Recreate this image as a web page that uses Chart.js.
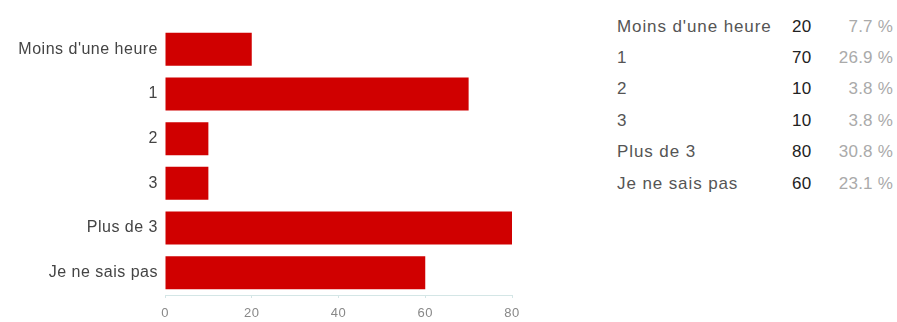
<!DOCTYPE html>
<html><head><meta charset="utf-8">
<script src="https://cdn.jsdelivr.net/npm/chart.js@4/dist/chart.umd.min.js"></script>
<style>
html,body{margin:0;padding:0;background:#fff;width:897px;height:322px;overflow:hidden;font-family:"Liberation Sans",Arial,sans-serif;}
#wrap{position:absolute;left:0;top:0;width:540px;height:322px;}
#tbl{position:absolute;left:617px;top:11px;border-collapse:collapse;font-size:17px;letter-spacing:0.9px;}
#tbl td{height:31.4px;padding:0;white-space:nowrap;}
#tbl td.l{color:#555;width:175px;}
#tbl td.v{color:#222;width:40px;text-align:left;letter-spacing:0.4px;}
#tbl td.p{color:#aaa;width:61px;text-align:right;letter-spacing:0.2px;}
</style></head><body>
<div id="wrap"><canvas id="c"></canvas></div>
<table id="tbl"></table>
<script>
const categories = ["Moins d'une heure","1","2","3","Plus de 3","Je ne sais pas"];
const counts = [20,70,10,10,80,60];
const percents = ["7.7 %","26.9 %","3.8 %","3.8 %","30.8 %","23.1 %"];
const xTicks = [0,20,40,60,80];

const tbl = document.getElementById('tbl');
categories.forEach((c,i)=>{
  const tr=document.createElement('tr');
  tr.innerHTML='<td class="l"></td><td class="v"></td><td class="p"></td>';
  tr.children[0].textContent=c;
  tr.children[1].textContent=counts[i];
  tr.children[2].textContent=percents[i];
  tbl.appendChild(tr);
});

const spacing = {id:'spacing',beforeDraw(chart){chart.ctx.letterSpacing='0.5px';}};

new Chart(document.getElementById('c'),{
  type:'bar',
  data:{labels:categories,datasets:[{data:counts,backgroundColor:'#d00000',borderWidth:0,barPercentage:0.74,categoryPercentage:1}]},
  plugins:[spacing],
  options:{
    indexAxis:'y',responsive:true,maintainAspectRatio:false,animation:false,
    layout:{padding:{top:27,right:28,bottom:0,left:0}},
    plugins:{legend:{display:false},tooltip:{enabled:false}},
    scales:{
      x:{min:xTicks[0],max:xTicks[xTicks.length-1],
        afterFit:s=>{s.height=27;},
        afterBuildTicks:s=>{s.ticks=xTicks.map(v=>({value:v}));},
        grid:{drawOnChartArea:false,tickLength:3,color:'#d4e6e6'},
        border:{display:true,color:'#d4e6e6'},
        ticks:{color:'#888',font:{family:'Liberation Sans',size:13},padding:8}},
      y:{afterFit:s=>{s.width=165;},
        grid:{display:false,drawTicks:false,tickLength:0},border:{display:false},
        ticks:{color:'#444',font:{family:'Liberation Sans',size:16},padding:7}}
    }
  }
});
</script>
</body></html>
